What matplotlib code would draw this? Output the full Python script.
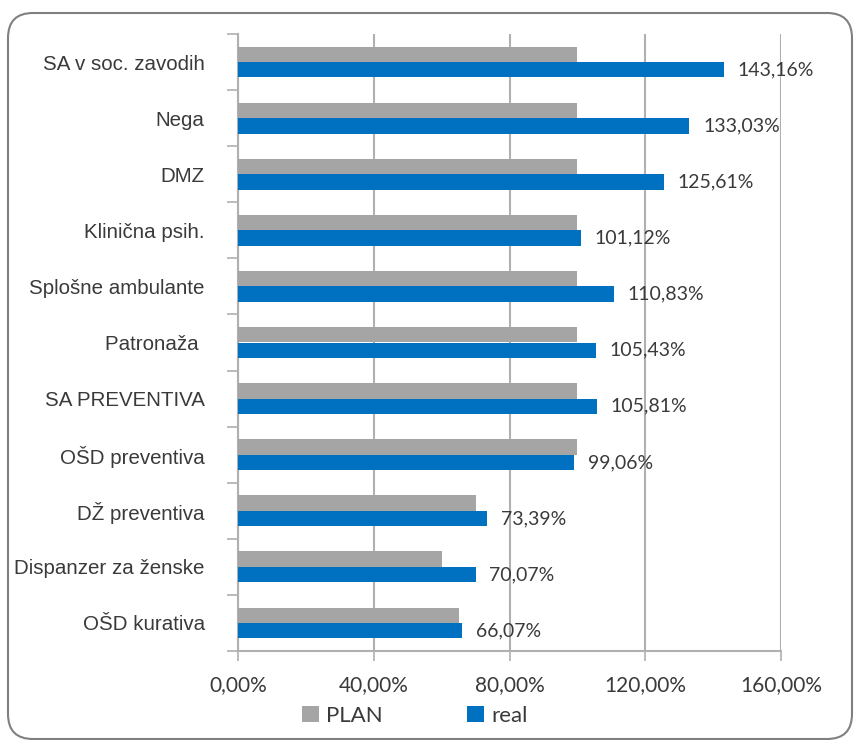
import matplotlib
matplotlib.use('Agg')
import matplotlib.pyplot as plt
import numpy as np
from matplotlib.patches import FancyBboxPatch

categories = ['SA v soc. zavodih', 'Nega', 'DMZ', 'Klinična psih.', 'Splošne ambulante',
              'Patronaža ', 'SA PREVENTIVA', 'OŠD preventiva', 'DŽ preventiva',
              'Dispanzer za ženske', 'OŠD kurativa']
plan = [100, 100, 100, 100, 100, 100, 100, 100, 70, 60, 65]
real = [143.16, 133.03, 125.61, 101.12, 110.83, 105.43, 105.81, 99.06, 73.39, 70.07, 66.07]
xticks = [0, 40, 80, 120, 160]

GRAY = '#A5A5A5'
BLUE = '#0070C0'
TXT = '#3A3A3A'
LINE = '#B0B0B0'
num_font = ['Lato', 'DejaVu Sans']
cat_font = ['Liberation Sans', 'DejaVu Sans']

fig = plt.figure(figsize=(8.58, 7.40), dpi=100)
ax = fig.add_axes([238/858, 89/740, 543/858, 617/740])

n = len(categories)
y = np.arange(n)[::-1]
h = 0.275
ax.barh(y + h/2, plan, height=h, color=GRAY, label='PLAN', zorder=3)
ax.barh(y - h/2, real, height=h, color=BLUE, label='real', zorder=3)

for yi, v in zip(y, real):
    ax.text(v + 4, yi - h/2, f'{v:.2f}%'.replace('.', ','), va='center', ha='left',
            fontsize=14, color=TXT, family=num_font, zorder=4)

ax.set_xlim(0, 160)
ax.set_ylim(-0.5, n - 0.5)
ax.set_xticks(xticks)
ax.set_xticklabels([f'{t:.2f}%'.replace('.', ',') for t in xticks], fontsize=15,
                   color=TXT, family=num_font)
ax.set_yticks(y)
ax.set_yticklabels(categories, fontsize=14.8, color=TXT, family=cat_font)
ax.tick_params(axis='y', length=0, pad=24)
ax.set_yticks(np.arange(-0.5, n, 1), minor=True)
ax.tick_params(axis='y', which='minor', length=8, color=LINE, width=1.2)
ax.tick_params(axis='x', length=7, color=LINE, width=1.2, pad=10)
ax.grid(axis='x', color=LINE, linewidth=1.5, zorder=0)
for s in ['top', 'right']:
    ax.spines[s].set_visible(False)
for s in ['left', 'bottom']:
    ax.spines[s].set_color(LINE)
    ax.spines[s].set_linewidth(1.5)

leg = fig.legend(loc='center', bbox_to_anchor=(415/858, 1 - 716/740), ncol=2, frameon=False,
                 handlelength=0.75, handleheight=0.75, handletextpad=0.35, columnspacing=3.8,
                 prop={'family': num_font, 'size': 16})
for t in leg.get_texts():
    t.set_color(TXT)

border = FancyBboxPatch((0.08, 0.01), 8.44, 7.26, boxstyle='round,pad=0,rounding_size=0.25',
                        transform=fig.dpi_scale_trans, facecolor='none', edgecolor='#808080',
                        linewidth=1.5, zorder=0)
fig.patches.append(border)

fig.savefig('out.png', dpi=100)
